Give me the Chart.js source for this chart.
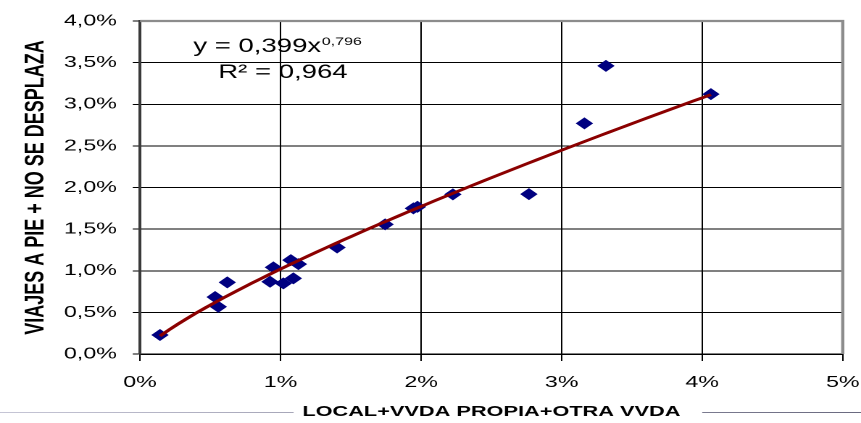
<!DOCTYPE html>
<html>
<head>
<meta charset="utf-8">
<title>Viajes a pie</title>
<script src="https://cdn.jsdelivr.net/npm/chart.js@4.4.1/dist/chart.umd.min.js"></script>
<style>
  html, body { margin: 0; padding: 0; background: #fff; overflow: hidden; width: 861px; height: 423px; }
  /* the original picture is stretched sideways, so the chart is too */
  #wrap { position: absolute; left: 0; top: 0; width: 594px; height: 423px; transform: scaleX(1.4495); transform-origin: 0 0; }
  #wrap canvas { display: block; width: 594px !important; height: 423px !important; }
</style>
</head>
<body>
<div id="wrap"><canvas id="chart" width="594" height="423"></canvas></div>
<script>
// values in %
const xValues = [0.142, 0.534, 0.557, 0.621, 0.925, 0.949, 1.020, 1.073, 1.091, 1.127, 1.402, 1.744, 1.945, 1.974, 2.226, 2.767, 3.162, 3.315, 4.062];
const yValues = [0.228, 0.684, 0.568, 0.861, 0.868, 1.041, 0.849, 1.128, 0.909, 1.080, 1.279, 1.557, 1.749, 1.768, 1.917, 1.921, 2.770, 3.461, 3.121];

const xTickLabels = ['0%', '1%', '2%', '3%', '4%', '5%'];
const yTickLabels = ['0,0%', '0,5%', '1,0%', '1,5%', '2,0%', '2,5%', '3,0%', '3,5%', '4,0%'];

const xTitle = 'LOCAL+VVDA PROPIA+OTRA VVDA';
const yTitle = 'VIAJES A PIE + NO SE DESPLAZA';

// power trendline shown on the chart: y = 0,399 x^0,796
const trendA = 0.399;
const trendB = 0.796;
const eqMain = 'y = 0,399x';
const eqSup = '0,796';
const eqR2 = 'R² = 0,964';

const FONT = '"Liberation Sans", Arial, sans-serif';

const points = xValues.map((x, i) => ({ x: x, y: yValues[i] }));

// trend curve over the range of the data
const xMin = Math.min(...xValues), xMax = Math.max(...xValues);
const trend = [];
for (let i = 0; i <= 60; i++) {
    const x = xMin + (xMax - xMin) * i / 60;
    trend.push({ x: x, y: 100 * trendA * Math.pow(x / 100, trendB) });
}

const framePlugin = {
    id: 'frame',
    beforeDraw(chart) {
        const ctx = chart.ctx, a = chart.chartArea;
        ctx.save();
        ctx.font = 'bold 15px ' + FONT;
        const cx = (a.left + a.right) / 2;
        const half = ctx.measureText(xTitle).width / 2;
        const g = ctx.createLinearGradient(0, 0, chart.width, 0);
        g.addColorStop(0, '#c6c6d6');
        g.addColorStop(1, '#6a6a80');
        ctx.strokeStyle = g;
        ctx.lineWidth = 1;
        ctx.beginPath();
        ctx.moveTo(0, 412.5); ctx.lineTo(cx - half - 6, 412.5);
        ctx.moveTo(cx + half + 15, 412.5); ctx.lineTo(chart.width, 412.5);
        ctx.stroke();
        ctx.restore();
    },
    afterDraw(chart) {
        const ctx = chart.ctx, a = chart.chartArea;
        ctx.save();
        // grey frame top and right
        ctx.strokeStyle = '#8c8c8c';
        ctx.lineWidth = 2.2;
        ctx.beginPath();
        ctx.moveTo(a.left, a.top); ctx.lineTo(a.right, a.top); ctx.lineTo(a.right, a.bottom);
        ctx.stroke();

        // trendline equation
        const eqCenter = 195.2;
        ctx.fillStyle = '#000';
        ctx.textBaseline = 'alphabetic';
        ctx.font = '19px ' + FONT;
        const wMain = ctx.measureText(eqMain).width;
        ctx.font = '11px ' + FONT;
        const wSup = ctx.measureText(eqSup).width;
        const x0 = eqCenter - (wMain + wSup) / 2 - 4;
        ctx.font = '19px ' + FONT;
        ctx.textAlign = 'left';
        ctx.fillText(eqMain, x0, 52);
        ctx.font = '11px ' + FONT;
        ctx.fillText(eqSup, x0 + wMain + 0.5, 45);
        ctx.font = '19px ' + FONT;
        ctx.textAlign = 'center';
        ctx.fillText(eqR2, eqCenter, 78);
        ctx.restore();
    }
};

window.addEventListener('DOMContentLoaded', () => {
    const ctx = document.getElementById('chart').getContext('2d');
    new Chart(ctx, {
        type: 'scatter',
        data: {
            datasets: [
                {
                    label: 'Tendencia',
                    type: 'line',
                    data: trend,
                    borderColor: '#8b0000',
                    borderWidth: 2.8,
                    pointRadius: 0,
                    fill: false,
                    tension: 0,
                    order: 0
                },
                {
                    label: 'Datos',
                    data: points,
                    pointStyle: 'rectRot',
                    pointRadius: 5.3,
                    pointBackgroundColor: '#000080',
                    pointBorderColor: '#000080',
                    pointBorderWidth: 1,
                    order: 1
                }
            ]
        },
        options: {
            responsive: false,
            animation: false,
            devicePixelRatio: 2,
            layout: { autoPadding: false, padding: { top: 21, right: 12.6, left: 0, bottom: 0 } },
            plugins: { legend: { display: false }, tooltip: { enabled: false } },
            scales: {
                x: {
                    type: 'linear',
                    min: 0, max: 5,
                    ticks: {
                        stepSize: 1, color: '#000', padding: 12,
                        font: { size: 16, family: FONT },
                        callback: (v, i) => xTickLabels[i]
                    },
                    grid: { color: '#000', lineWidth: 1, tickLength: 7 },
                    border: { color: '#000', width: 1.5 },
                    title: {
                        display: true, text: xTitle, color: '#000',
                        font: { size: 15, weight: 'bold', family: FONT },
                        padding: { top: 0, bottom: 2 }
                    },
                    afterFit: s => { s.height = 69; s.paddingLeft = 0; s.paddingRight = 0; }
                },
                y: {
                    min: 0, max: 4,
                    ticks: {
                        stepSize: 0.5, color: '#000', padding: 11,
                        font: { size: 16, family: FONT },
                        callback: (v, i) => yTickLabels[i]
                    },
                    grid: { color: '#000', lineWidth: 1, tickLength: 5 },
                    border: { color: '#3a3a3a', width: 2 },
                    title: {
                        display: true, text: yTitle, color: '#000',
                        font: { size: 18, weight: 'bold', family: FONT },
                        padding: { top: 14, bottom: 0 }
                    },
                    afterFit: s => { s.width = 96.6; s.paddingTop = 0; s.paddingBottom = 0; }
                }
            }
        },
        plugins: [framePlugin]
    });
});
</script>
</body>
</html>
